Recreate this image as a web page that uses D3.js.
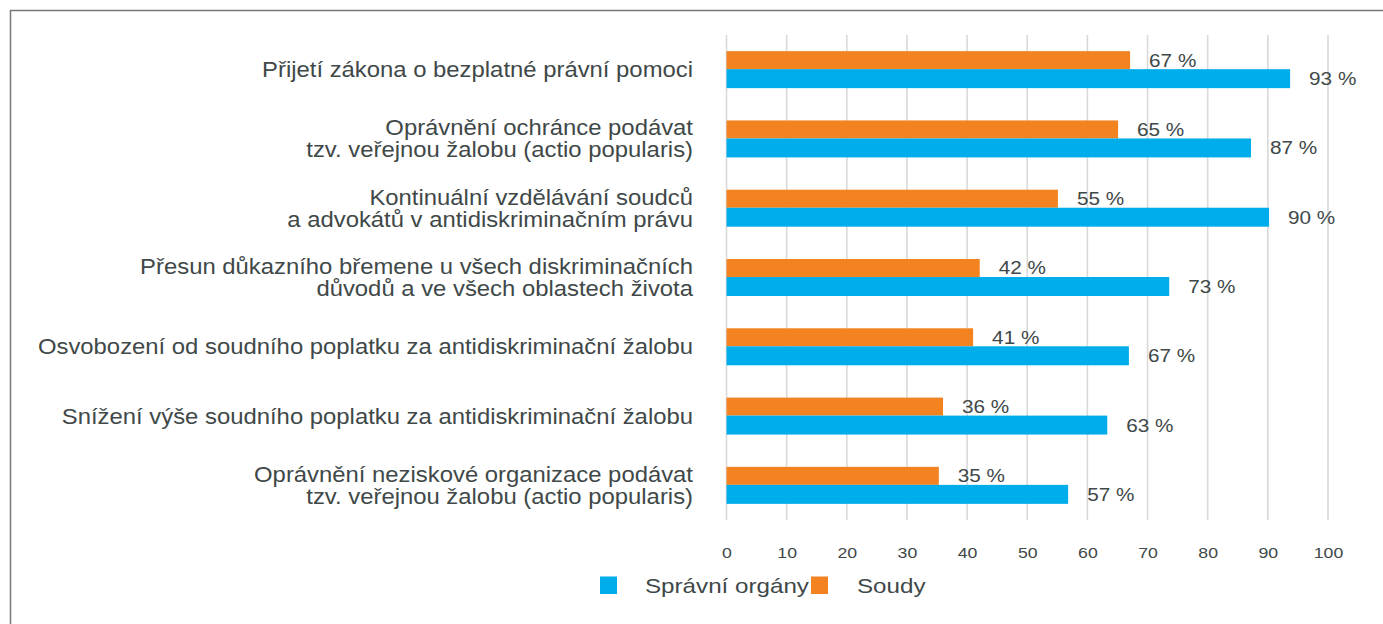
<!DOCTYPE html>
<html><head><meta charset="utf-8">
<script src="https://cdn.jsdelivr.net/npm/d3@7"></script>
<style>
html,body{margin:0;padding:0;background:#fff;}
svg{display:block;}
text{font-family:"Liberation Sans",Arial,sans-serif;fill:#404848;}
</style></head><body>
<svg id="c" width="1383" height="624"></svg>
<script>
const categories = [
  ["Přijetí zákona o bezplatné právní pomoci"],
  ["Oprávnění ochránce podávat","tzv. veřejnou žalobu (actio popularis)"],
  ["Kontinuální vzdělávání soudců","a advokátů v antidiskriminačním právu"],
  ["Přesun důkazního břemene u všech diskriminačních","důvodů a ve všech oblastech života"],
  ["Osvobození od soudního poplatku za antidiskriminační žalobu"],
  ["Snížení výše soudního poplatku za antidiskriminační žalobu"],
  ["Oprávnění neziskové organizace podávat","tzv. veřejnou žalobu (actio popularis)"]
];
// bar lengths
const spravni = [93.7, 87.2, 90.2, 73.6, 66.9, 63.3, 56.8];
const soudy = [67.1, 65.1, 55.1, 42.1, 41.0, 36.0, 35.3];
// printed data labels
const spravniLabels = ["93 %", "87 %", "90 %", "73 %", "67 %", "63 %", "57 %"];
const soudyLabels = ["67 %", "65 %", "55 %", "42 %", "41 %", "36 %", "35 %"];
const seriesNames = ["Správní orgány", "Soudy"];
const seriesColors = ["#00adeb", "#f38321"];
const ticks = [0,10,20,30,40,50,60,70,80,90,100];

const svg = d3.select("#c");
svg.append("rect").attr("x",10.5).attr("y",10.5).attr("width",1400).attr("height",700)
  .attr("fill","none").attr("stroke","#777").attr("stroke-width",1.5);

const x = d3.scaleLinear().domain([0,100]).range([726.5,1328]);
const y = d3.scaleBand().domain(d3.range(categories.length)).range([35,520]).paddingInner(0.466).paddingOuter(0.233);

// gridlines
svg.append("g").selectAll("line").data(ticks).join("line")
  .attr("x1",d=>x(d)).attr("x2",d=>x(d)).attr("y1",35).attr("y2",520)
  .attr("stroke","#d9d9d9").attr("stroke-width",1.6);

// tick labels
const ax = svg.append("g").attr("transform","translate(0,553)")
  .call(d3.axisBottom(x).tickValues(ticks).tickSize(0).tickPadding(0));
ax.select(".domain").remove();
ax.selectAll("text").attr("font-size",15).attr("fill","#404848").attr("y",0).attr("dy","0.35em")
  .attr("transform","scale(1.18,1)")
  .style("font-family","'Liberation Sans',Arial,sans-serif");

const bh = y.bandwidth();
const hOr = bh*0.487;
// orange bars (Soudy) on top
svg.append("g").selectAll("rect").data(soudy).join("rect")
  .attr("x",x(0)).attr("y",(d,i)=>y(i)).attr("width",d=>x(d)-x(0)).attr("height",hOr)
  .attr("fill",seriesColors[1]);
svg.append("g").selectAll("rect").data(spravni).join("rect")
  .attr("x",x(0)).attr("y",(d,i)=>y(i)+hOr).attr("width",d=>x(d)-x(0)).attr("height",bh-hOr)
  .attr("fill",seriesColors[0]);

// value labels
const vs = 1.12;
svg.append("g").selectAll("text").data(soudy).join("text")
  .attr("transform",(d,i)=>`translate(${x(d)+19},${y(i)+hOr/2}) scale(${vs},1)`)
  .attr("dy","0.35em").attr("font-size",18.5).text((d,i)=>soudyLabels[i]);
svg.append("g").selectAll("text").data(spravni).join("text")
  .attr("transform",(d,i)=>`translate(${x(d)+19},${y(i)+hOr+(bh-hOr)/2}) scale(${vs},1)`)
  .attr("dy","0.35em").attr("font-size",18.5).text((d,i)=>spravniLabels[i]);

// category labels
const cl = svg.append("g").selectAll("text").data(categories).join("text")
  .attr("text-anchor","end").attr("font-size",21.5)
  .attr("transform",(d,i)=>`translate(693,${y(i)+bh/2}) scale(1.11,1)`);
cl.selectAll("tspan").data(d=>d.map((t,j)=>({t,j,n:d.length}))).join("tspan")
  .attr("x",0).attr("y",d=>(d.j-(d.n-1)/2)*22).attr("dy","0.35em").text(d=>d.t);

// legend
const lg = svg.append("g").attr("transform","translate(600,585.5)");
const items = [{n:seriesNames[0],c:seriesColors[0],x:0,tx:45},{n:seriesNames[1],c:seriesColors[1],x:211,tx:257}];
items.forEach(it=>{
  lg.append("rect").attr("x",it.x).attr("y",-9).attr("width",17).attr("height",17.5).attr("fill",it.c);
  lg.append("text").attr("transform",`translate(${it.tx},0) scale(1.18,1)`).attr("dy","0.35em")
    .attr("font-size",20.5).text(it.n);
});
</script></body></html>
